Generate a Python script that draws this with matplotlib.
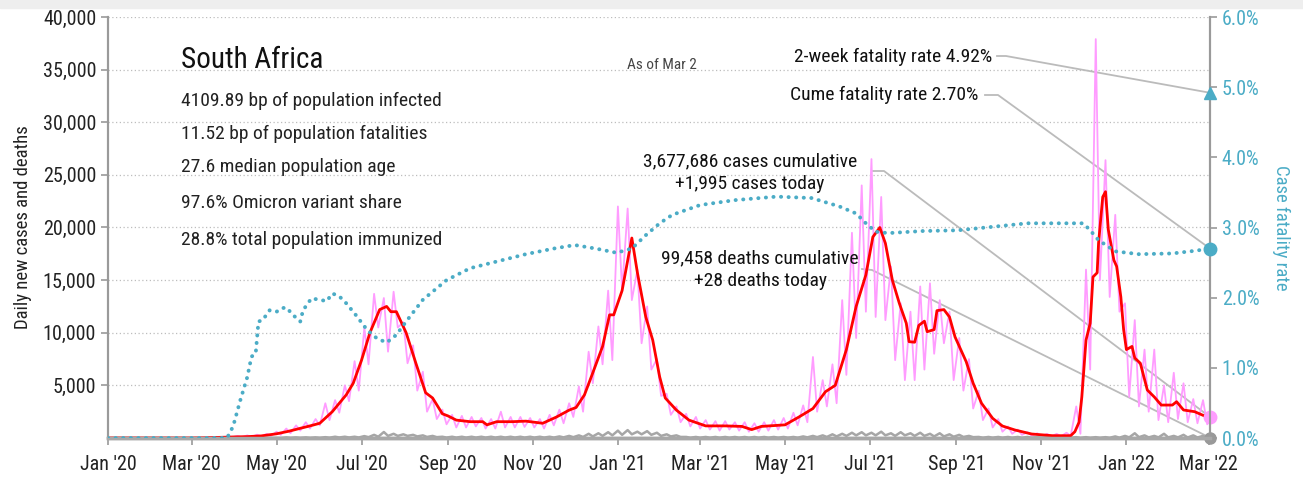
import numpy as np
import matplotlib.pyplot as plt
import matplotlib.dates as mdates
from matplotlib import font_manager as fm
from matplotlib.ticker import FuncFormatter

# narrow sans for all chart text
installed = {f.name for f in fm.fontManager.ttflist}
for fam in ['Roboto Condensed', 'Archivo Narrow', 'PT Sans Narrow',
            'Liberation Sans Narrow', 'Open Sans Condensed', 'Open Sans']:
    if fam in installed:
        break
plt.rcParams['font.family'] = [fam, 'DejaVu Sans']
plt.rcParams['font.stretch'] = 'condensed'

start = np.datetime64('2020-01-01')

# daily new cases, weekly high and low (weeks counted from 1 Jan 2020)
cases_hi = [0, 0, 0, 0, 0, 0, 0, 0, 0, 5,
            40, 100, 150, 200, 250, 320, 400, 600, 900, 1200,
            1500, 1800, 3300, 3600, 5000, 7300, 10500, 13700, 13300, 13900,
            11000, 8800, 6300, 3700, 2700, 2200, 2100, 2000, 1900, 1800,
            2500, 2000, 2000, 1900, 1800, 2200, 2700, 3300, 4900, 8200,
            10600, 14000, 22000, 21800, 16000, 12500, 7500, 4200, 3000, 2300,
            2000, 1700, 1600, 1600, 1500, 1500, 1400, 1500, 1700, 1900,
            2400, 3100, 7700, 5500, 7000, 13100, 19500, 24000, 26500, 22900,
            16300, 12800, 12000, 14400, 14700, 13100, 12000, 9500, 7500, 4500,
            2800, 1800, 1100, 800, 550, 450, 400, 400, 500, 3000,
            16000, 37900, 26400, 21200, 12800, 11200, 8400, 8400, 5000, 6200,
            5200, 3700, 3600]
cases_lo = [0, 0, 0, 0, 0, 0, 0, 0, 0, 0,
            10, 40, 60, 70, 100, 150, 200, 300, 450, 700,
            900, 1200, 1700, 2400, 3500, 4500, 7000, 10500, 8200, 10500,
            7100, 4500, 2500, 1800, 1300, 1000, 1000, 1100, 900, 900,
            1000, 1000, 1050, 1000, 900, 1200, 1400, 2000, 2500, 5200,
            7000, 7400, 14000, 13100, 9000, 6500, 4000, 2200, 1500, 1100,
            900, 800, 700, 800, 700, 600, 600, 700, 800, 900,
            1200, 1500, 2500, 3000, 3300, 6000, 9500, 12000, 11500, 11200,
            7400, 5500, 5500, 6500, 8000, 9000, 5500, 4500, 2800, 1700,
            1000, 600, 400, 300, 200, 150, 150, 150, 200, 400,
            6500, 15000, 13400, 12000, 3900, 3000, 2500, 1700, 1500, 1800,
            1500, 1400, 1300]
cases_today = 1995

# 7-day average of new cases
red_days = [0, 60, 70, 80, 90, 100, 110, 121, 130, 138, 145, 152, 161, 171, 176,
            182, 188, 195, 200, 203, 207, 214, 221, 228, 233, 240, 244, 250, 260,
            269, 272, 279, 290, 300, 312, 322, 331, 336, 342, 348, 355, 360, 363,
            369, 376, 380, 386, 391, 396, 400, 408, 417, 429, 443, 455, 462, 469,
            486, 496, 506, 515, 522, 530, 537, 544, 549, 554, 558, 563, 568, 573,
            575, 579, 582, 586, 588, 593, 595, 600, 604, 608, 616, 621, 627, 635,
            642, 651, 663, 678, 691, 694, 697, 699, 702, 705, 707, 710, 711, 714,
            716, 718, 722, 724, 727, 729, 731, 735, 737, 741, 746, 751, 756, 764,
            767, 772, 780, 791]
red_vals = [0, 0, 20, 60, 100, 130, 200, 400, 650, 920, 1150, 1400, 2500, 4100, 5200,
            7400, 10000, 12200, 12500, 12000, 12000, 10000, 7100, 4300, 3800, 2300, 2100, 1700, 1550,
            1550, 1250, 1550, 1550, 1600, 1400, 2000, 2650, 2900, 4100, 6200, 8700, 11700, 11700,
            14000, 19000, 15700, 11500, 9300, 5800, 3800, 2650, 1700, 1150, 1150, 1100, 800, 1100,
            1250, 2000, 2800, 4400, 5000, 8400, 12500, 15500, 19100, 20000, 18500, 15000, 12800, 10900,
            9150, 9100, 10700, 11100, 10100, 10300, 12100, 12200, 11500, 9600, 7250, 5200, 3300, 1870,
            1140, 760, 380, 220, 220, 600, 1500, 3900, 9300, 10900, 15300, 15700, 18500, 22900,
            23400, 19800, 16900, 16300, 13400, 10300, 8400, 8700, 7600, 7100, 4560, 3900, 3130, 3130,
            3450, 2660, 2500, 1870]

# daily deaths, weekly high and low
deaths_hi = ([0] * 13 + [20] * 5 + [60] * 4 + [80] + [120] * 3
             + [180, 300, 570, 400, 350, 300, 250, 200] + [120] * 12
             + [150, 200, 250, 400, 450, 550, 700, 750, 600, 650, 500, 350, 250]
             + [100] * 12
             + [150, 200, 250, 350, 400, 500, 550, 500, 600, 450, 550, 450, 500,
                400, 450, 350, 300, 200]
             + [100] * 10 + [80] * 4
             + [150, 200, 450, 250, 200, 400, 200, 300, 250, 200])
deaths_lo = ([0] * 13 + [5] * 5 + [20] * 4 + [30] + [50] * 3
             + [80, 120, 200, 200, 200, 150, 100, 80] + [40] * 12
             + [60, 80, 100, 150, 200, 250, 300, 350, 350, 300, 200, 150, 100]
             + [30] * 12
             + [60, 80, 100, 150, 200, 250, 250, 250, 250, 200, 250, 200, 200,
                150, 150, 120, 100, 80]
             + [30] * 10 + [20] * 4
             + [30, 60, 80, 60, 60, 60, 60, 50, 50, 28])
deaths_today = 28

# case fatality rate, %
cfr_days = [0, 85, 87, 90, 95, 100, 103, 106, 108, 111, 116, 121, 125, 128, 133,
            138, 140, 146, 152, 157, 161, 166, 171, 178, 186, 193, 200, 207, 214,
            226, 243, 260, 280, 300, 320, 335, 350, 365, 376, 386, 396, 405, 425,
            450, 480, 505, 525, 537, 544, 551, 560, 585, 610, 635, 660, 700, 705,
            711, 723, 740, 764, 781, 791]
cfr_vals = [0, 0, 0.05, 0.18, 0.54, 0.87, 1.16, 1.2, 1.66, 1.68, 1.82, 1.80, 1.85, 1.86, 1.75,
            1.66, 1.82, 1.99, 1.97, 1.95, 2.06, 2.02, 1.92, 1.75, 1.54, 1.42, 1.36, 1.47, 1.66,
            1.97, 2.25, 2.42, 2.52, 2.62, 2.70, 2.75, 2.70, 2.64, 2.70, 2.89, 3.06, 3.18, 3.32,
            3.39, 3.44, 3.42, 3.30, 3.20, 3.06, 2.94, 2.92, 2.95, 2.96, 3.01, 3.06, 3.06, 2.96,
            2.82, 2.66, 2.62, 2.63, 2.67, 2.70]
two_week_cfr = 4.92
last_day = 791

stats = ["4109.89 bp of population infected",
         "11.52 bp of population fatalities",
         "27.6 median population age",
         "97.6% Omicron variant share",
         "28.8% total population immunized"]


def to_dates(days):
    return start + np.asarray(days).astype('timedelta64[D]')


def weekly(hi, lo, final):
    wk = np.arange(len(hi))
    d = np.column_stack([wk * 7 + 2, wk * 7 + 5]).ravel()
    v = np.column_stack([hi, lo]).ravel()
    return to_dates(list(d) + [last_day]), list(v) + [final]


PINK = '#ff9cff'
TEAL = '#4bacc6'
GREY = '#a6a6a6'
AXC = '#9a9a9a'

fig = plt.figure(figsize=(13.03, 4.8), dpi=100)
fig.patches.append(plt.Rectangle((0, 0.983), 1, 0.017, transform=fig.transFigure,
                                 color='#eeeeee', zorder=0))
ax = fig.add_axes([108 / 1303, 42 / 480, 1102 / 1303, 421 / 480])
ax2 = ax.twinx()

pd_, pv = weekly(cases_hi, cases_lo, cases_today)
dd, dv = weekly(deaths_hi, deaths_lo, deaths_today)
ax.plot(pd_, pv, color=PINK, lw=1.3, zorder=2)
ax.plot(dd, dv, color=GREY, lw=1.8, zorder=2)
ax.plot(to_dates(red_days), red_vals, color='#ff0000', lw=2, zorder=3)

ax2.plot(to_dates(cfr_days), cfr_vals, color=TEAL, lw=2.8,
         linestyle=(0, (0.05, 1.9)), dash_capstyle='round', zorder=4)

x0, x1 = to_dates([0, last_day])
ax.set_xlim(x0, x1)
ax.set_ylim(0, 40000)
ax2.set_ylim(0, 6)

ax.xaxis.set_major_locator(mdates.MonthLocator(bymonth=[1, 3, 5, 7, 9, 11]))
ax.xaxis.set_major_formatter(mdates.DateFormatter("%b '%y"))
ax.set_yticks(range(5000, 40001, 5000))
ax.yaxis.set_major_formatter(FuncFormatter(lambda v, p: f'{int(v):,}'))
ax2.set_yticks(range(0, 7))
ax2.yaxis.set_major_formatter(FuncFormatter(lambda v, p: f'{v:.1f}%'))

ax.yaxis.grid(True, linestyle=(0, (1, 2)), color='#bdbdbd', lw=0.9)
ax.set_axisbelow(True)

for a in (ax, ax2):
    a.spines['top'].set_visible(False)
    a.spines['left'].set_color(AXC)
    a.spines['right'].set_color(AXC)
    a.spines['bottom'].set_color('#a8a8a8')
    a.spines['left'].set_linewidth(1.5)
    a.spines['right'].set_linewidth(1.5)
    a.spines['bottom'].set_linewidth(2.5)
ax.tick_params(axis='both', colors=AXC, labelcolor='#222222', labelsize=14.5, length=5, width=1.2)
ax.tick_params(axis='x', pad=7)
ax2.tick_params(axis='y', colors=AXC, labelcolor=TEAL, labelsize=14.5, length=5, width=1.2)

ax.set_ylabel('Daily new cases and deaths', fontsize=13.5, color='#222222', labelpad=8)
ax2.set_ylabel('Case fatality rate', fontsize=13.5, color=TEAL, rotation=270, labelpad=22)

# headline block
ax.text(0.0662, 0.898, 'South Africa', transform=ax.transAxes, fontsize=21,
        va='center', ha='left', color='#111111')
for s, fy in zip(stats, [0.8005, 0.722, 0.644, 0.558, 0.470]):
    ax.text(0.0662, fy, s, transform=ax.transAxes, fontsize=14, va='center',
            ha='left', color='#222222')
ax.text(0.5027, 0.886, 'As of Mar 2', transform=ax.transAxes, fontsize=11,
        va='center', ha='center', color='#444444')

# end markers
ax2.plot(to_dates([last_day]), [two_week_cfr], marker='^', ms=8, color=TEAL, clip_on=False, zorder=6)
ax2.plot(to_dates([last_day]), [cfr_vals[-1]], marker='o', ms=9, color=TEAL, clip_on=False, zorder=6)
ax.plot(to_dates([last_day]), [cases_today], marker='o', ms=9, color=PINK, clip_on=False, zorder=6)
ax.plot(to_dates([last_day]), [deaths_today], marker='o', ms=8, color='#999999', clip_on=False, zorder=6)

fig.canvas.draw()


def px(xp, yp):
    return ((xp - 108) / 1102, (438 - yp) / 421)


def end_pt(a, y):
    disp = a.transData.transform((mdates.date2num(to_dates([last_day])[0]), y))
    return ax.transAxes.inverted().transform(disp)


def leader(label, tx, ty, ha, p0, p1, end):
    ax.text(tx, ty, label, transform=ax.transAxes, fontsize=14, ha=ha,
            va='center', color='#111111', linespacing=1.35)
    xs = [p0[0], p1[0], end[0]]
    ys = [p0[1], p1[1], end[1]]
    ax.plot(xs, ys, transform=ax.transAxes, color='#bbbbbb', lw=1.3,
            clip_on=False, zorder=1)


leader(f'2-week fatality rate {two_week_cfr:.2f}%', 0.802, 0.905, 'right',
       px(997, 56), px(1006, 56), end_pt(ax2, two_week_cfr))
leader(f'Cume fatality rate {cfr_vals[-1]:.2f}%', 0.7895, 0.815, 'right',
       px(985, 95), px(998, 95), end_pt(ax2, cfr_vals[-1]))
leader(f'3,677,686 cases cumulative\n+{cases_today:,} cases today', 0.5826, 0.63, 'center',
       px(873, 171), px(884, 171), end_pt(ax, cases_today))
leader(f'99,458 deaths cumulative\n+{deaths_today} deaths today', 0.5917, 0.399, 'center',
       px(862, 269), px(872, 270), end_pt(ax, deaths_today))

fig.savefig('out.png', dpi=100)
